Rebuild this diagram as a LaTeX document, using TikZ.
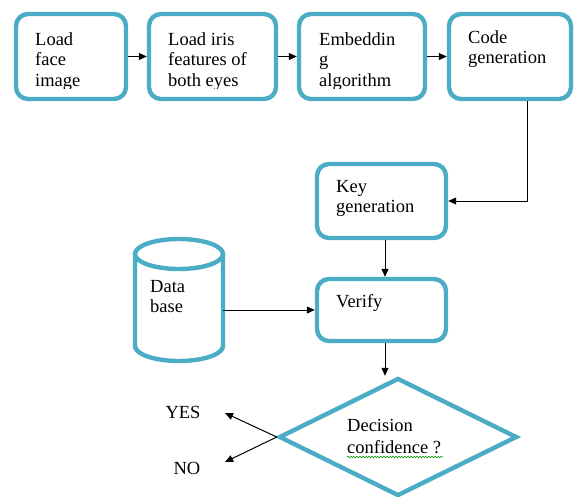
\documentclass[tikz,border=0pt]{standalone}
\usepackage{fontspec}
\setmainfont{Liberation Serif}
\newfontfamily\tnr{Liberation Serif}
\usetikzlibrary{shapes.geometric,arrows.meta,decorations.pathmorphing,calc}
\definecolor{acc}{RGB}{75,172,198}
\begin{document}
\begin{tikzpicture}[x=1pt,y=-1pt,
 box/.style={draw=acc, line width=4.4pt, rounded corners=12pt, inner sep=0pt},
 lbl/.style={anchor=north west, inner sep=0pt, align=left, font=\tnr\fontsize{18.5}{20.5}\selectfont},
 plain/.style={inner sep=0pt, font=\tnr\fontsize{18.5}{20.5}\selectfont},
 arr/.style={-{Triangle[length=8pt,width=7pt]}, line width=1pt}]
\clip (0,0) rectangle (576,496);
\fill[white] (0,0) rectangle (576,496);
% top row boxes
\node[box, minimum width=110pt, minimum height=85pt] (b1) at (71,56.5) {};
\node[box, minimum width=127pt, minimum height=85pt] (b2) at (212.5,56.5) {};
\node[box, minimum width=126pt, minimum height=85pt] (b3) at (362,56.5) {};
\node[box, minimum width=122pt, minimum height=85pt] (b4) at (510,56.5) {};
\begin{scope}
\clip (0,0) rectangle (576,88);
\node[lbl] (t1) at (35,32) {Load\\face\\image};
\node[lbl] (t2) at (168,32) {Load iris\\features of\\both eyes};
\node[lbl] (t3) at (319,32) {Embeddin\\g\\algorithm};
\end{scope}
\node[lbl] (t4) at (468,30) {Code\\generation};
% key and verify
\node[box, minimum width=129pt, minimum height=74pt] (key) at (381.5,201) {};
\node[lbl] (tk) at (336,180) {Key\\generation};
\node[box, minimum width=129pt, minimum height=62pt] (ver) at (381.5,310) {};
\node[lbl] (tv) at (336,294) {Verify};
% database
\node[minimum width=88pt, minimum height=122pt, inner sep=0pt] (db) at (179,300) {};
\draw[acc, line width=4.4pt] (135,254) -- (135,346) arc[start angle=180, end angle=0, x radius=44, y radius=15] -- (223,254);
\draw[acc, line width=4.4pt] (179,254) ellipse [x radius=44, y radius=15];
\node[lbl] (tdb) at (150,280) {Data\\base};
% decision
\node[diamond, draw=acc, line width=4.4pt, minimum width=238pt, minimum height=118pt, inner sep=0pt] (dec) at (398,437) {};
\node[lbl, font=\tnr\fontsize{18.5}{22}\selectfont] (tdec) at (347,419) {Decision\\confidence ?};
\draw[green!60!black, line width=0.6pt, decorate, decoration={snake, amplitude=0.8pt, segment length=3pt}] (347,457) -- (443,457);
\node[plain] (yes) at (183,412) {YES};
\node[plain] (no) at (187,468) {NO};
\coordinate (yt) at (225,413);
\coordinate (nt) at (225,462);
% connectors
\draw[arr] (b1.east) -- (b2.west);
\draw[arr] (b2.east) -- (b3.west);
\draw[arr] (b3.east) -- (b4.west);
\draw[arr] ([xshift=17pt]b4.south) |- (key.east);
\draw[arr] ([xshift=3.5pt]key.south) -- ([xshift=3.5pt]ver.north);
\draw[arr] (db.east |- ver.west) -- (ver.west);
\draw[arr] ([xshift=3.5pt]ver.south) -- ([xshift=3.5pt]ver.south |- dec.north);
\draw[arr] (dec.west) -- (yt);
\draw[arr] (dec.west) -- (nt);
\end{tikzpicture}
\end{document}
